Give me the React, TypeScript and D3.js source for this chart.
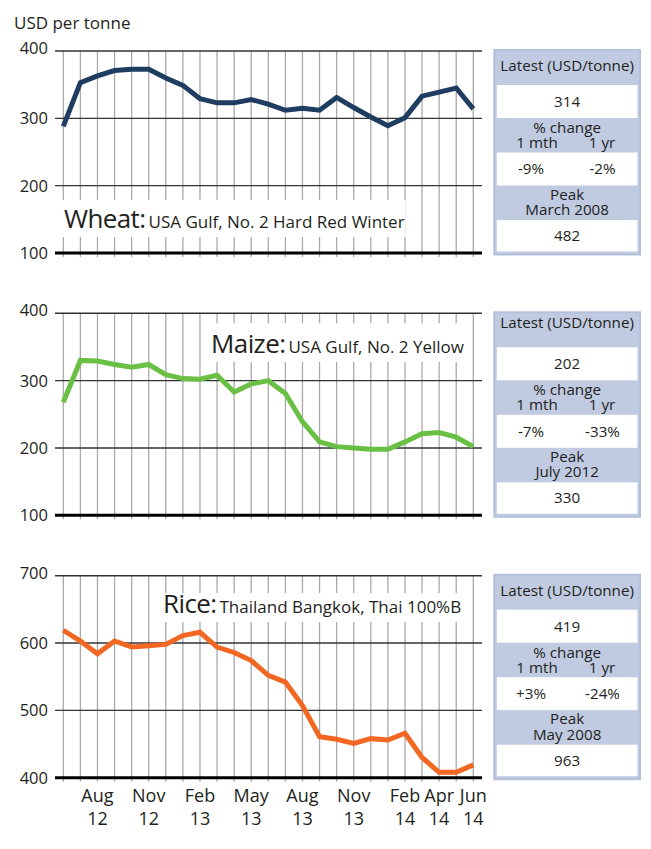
import { useEffect, useRef } from 'react'
import * as d3 from 'd3'

const width = 651
const height = 849

// monthly series Jun 2012 - Jun 2014
const months = [
  '2012-06', '2012-07', '2012-08', '2012-09', '2012-10', '2012-11', '2012-12',
  '2013-01', '2013-02', '2013-03', '2013-04', '2013-05', '2013-06', '2013-07',
  '2013-08', '2013-09', '2013-10', '2013-11', '2013-12', '2014-01', '2014-02',
  '2014-03', '2014-04', '2014-05', '2014-06'
]
const tickMonths = ['2012-08', '2012-11', '2013-02', '2013-05', '2013-08', '2013-11', '2014-02', '2014-04', '2014-06']
const tickNames = ['Aug', 'Nov', 'Feb', 'May', 'Aug', 'Nov', 'Feb', 'Apr', 'Jun']
const tickYears = ['12', '12', '13', '13', '13', '13', '14', '14', '14']

const wheat = [288, 353, 363, 371, 373, 373, 360, 349, 329, 323, 323, 328, 321, 312, 315, 312, 331, 316, 302, 289, 301, 333, 339, 345, 314]
const maize = [268, 330, 329, 324, 320, 324, 309, 303, 302, 308, 283, 295, 300, 281, 239, 209, 202, 200, 198, 198, 209, 221, 223, 216, 202]
const rice = [619, 603, 584, 603, 594, 596, 598, 611, 616, 594, 586, 574, 552, 542, 507, 461, 457, 451, 458, 456, 466, 430, 408, 408, 419]

const names = ['Wheat:', 'Maize:', 'Rice:']
const sources = ['USA Gulf, No. 2 Hard Red Winter', 'USA Gulf, No. 2 Yellow', 'Thailand Bangkok, Thai 100%B']
const latest = ['314', '202', '419']
const change1m = ['-9%', '-7%', '+3%']
const change1y = ['-2%', '-33%', '-24%']
const peakDates = ['March 2008', 'July 2012', 'May 2008']
const peakValues = ['482', '330', '963']
const yDomains = [[100, 400], [100, 400], [400, 700]]
const colors = ['#1f3d60', '#6abf45', '#f26722']

// layout
const panelTops = [51, 313.3, 575.7]
const panelH = 202
const gridX0 = 55
const gridX1 = 482
const titleLayout = [
  { x: 64, base: 176.7, boxTop: 149, boxBottom: 186 },
  { x: 211, base: 40, boxTop: 10, boxBottom: 48.7 },
  { x: 163, base: 37.6, boxTop: 17.3, boxBottom: 46.3 }
]
const headerDy = [14.5, 9, 14.5]
const tableX0 = 494.3
const tableX1 = 640
const font = "'Open Sans', sans-serif"
const ink = '#231f20'

function App() {
  const ref = useRef<SVGSVGElement>(null)

  useEffect(() => {
    const svg = d3.select(ref.current)
    svg.selectAll('*').remove()

    const x = d3.scalePoint().domain(months).range([63.3, 473.3])
    const series = [wheat, maize, rice]

    svg.append('text')
      .attr('x', 14).attr('y', 29)
      .attr('font-family', font).attr('font-size', 17).attr('fill', ink)
      .text('USD per tonne')

    series.forEach((values, p) => {
      const top = panelTops[p]
      const [lo, hi] = yDomains[p]
      const y = d3.scaleLinear().domain([lo, hi]).range([top + panelH, top])
      const g = svg.append('g')

      // vertical grid
      g.selectAll('line.v').data(months).join('line')
        .attr('x1', d => x(d)!).attr('x2', d => x(d)!)
        .attr('y1', top).attr('y2', top + panelH + 4)
        .attr('stroke', '#a9a9a9').attr('stroke-width', 1.3)

      // horizontal grid
      const ticks = d3.range(lo, hi + 1, 100)
      g.selectAll('line.h').data(ticks).join('line')
        .attr('x1', gridX0).attr('x2', gridX1)
        .attr('y1', d => y(d)).attr('y2', d => y(d))
        .attr('stroke', d => (d === lo ? '#000' : '#333'))
        .attr('stroke-width', d => (d === lo ? 3 : 1.4))

      g.selectAll('text.tick').data(ticks).join('text')
        .attr('x', 48).attr('y', d => y(d) + (d === hi ? -3 : 0))
        .attr('dy', '0.36em')
        .attr('text-anchor', 'end')
        .attr('font-family', font).attr('font-size', 16.5).attr('fill', ink)
        .text(d => d)

      // title with white box
      const tl = titleLayout[p]
      const box = g.append('rect').attr('fill', '#fff')
      const title = g.append('text')
        .attr('x', tl.x).attr('y', top + tl.base)
        .attr('font-family', font).attr('fill', ink)
      title.append('tspan').attr('font-size', 26).attr('letter-spacing', -0.6).text(names[p])
      title.append('tspan').attr('font-size', 17).attr('dx', 3).text(sources[p])
      const w = (title.node() as SVGTextElement).getComputedTextLength()
      box.attr('x', tl.x - 5).attr('width', w + 9)
        .attr('y', top + tl.boxTop).attr('height', tl.boxBottom - tl.boxTop)

      // series line
      const line = d3.line<number>()
        .x((_, i) => x(months[i])!)
        .y(d => y(d))
      g.append('path').datum(values)
        .attr('d', line)
        .attr('fill', 'none')
        .attr('stroke', colors[p])
        .attr('stroke-width', 5)
        .attr('stroke-linejoin', 'miter')

      // table
      const t = svg.append('g')
      t.append('rect')
        .attr('x', tableX0).attr('y', top - 1)
        .attr('width', tableX1 - tableX0).attr('height', panelH + 2.5)
        .attr('fill', '#c0cbe2').attr('stroke', '#b4c1dc').attr('stroke-width', 2)
      const cells = [[34, 67], [101.5, 134.5], [169, 200.5]]
      cells.forEach(([a, b]) => {
        t.append('rect')
          .attr('x', tableX0 + 2.5).attr('y', top + a)
          .attr('width', tableX1 - tableX0 - 5).attr('height', b - a)
          .attr('fill', '#fff')
      })
      const cx = (tableX0 + tableX1) / 2
      const label = (tx: number, ty: number, s: string) =>
        t.append('text')
          .attr('x', tx).attr('y', top + ty)
          .attr('dy', '0.35em')
          .attr('text-anchor', 'middle')
          .attr('font-family', font).attr('font-size', 15.2).attr('fill', ink)
          .text(s)
      label(cx, headerDy[p], 'Latest (USD/tonne)')
      label(cx, (cells[0][0] + cells[0][1]) / 2, latest[p])
      label(cx, 76.5, '% change')
      label(537, 91.5, '1 mth')
      label(602, 91.5, '1 yr')
      label(531, (cells[1][0] + cells[1][1]) / 2, change1m[p])
      label(602.5, (cells[1][0] + cells[1][1]) / 2, change1y[p])
      label(cx, 143.3, 'Peak')
      label(cx, 158.5, peakDates[p])
      label(cx, (cells[2][0] + cells[2][1]) / 2, peakValues[p])
    })

    // month axis under the last panel
    const ax = svg.append('g')
    ax.selectAll('text.m').data(tickMonths).join('text')
      .attr('x', d => x(d)!).attr('y', 802)
      .attr('text-anchor', 'middle')
      .attr('font-family', font).attr('font-size', 18).attr('fill', ink)
      .text((_, i) => tickNames[i])
    ax.selectAll('text.yr').data(tickMonths).join('text')
      .attr('x', d => x(d)!).attr('y', 825)
      .attr('text-anchor', 'middle')
      .attr('font-family', font).attr('font-size', 18).attr('fill', ink)
      .text((_, i) => tickYears[i])
  }, [])

  return (
    <svg
      ref={ref}
      width={width}
      height={height}
      style={{ position: 'absolute', left: 0, top: 0, background: '#fff' }}
    />
  )
}

export default App
